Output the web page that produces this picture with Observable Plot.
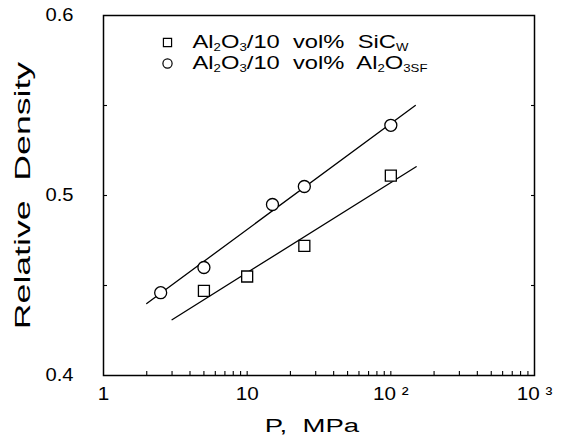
<!DOCTYPE html>
<html><head><meta charset="utf-8">
<script src="https://cdn.jsdelivr.net/npm/d3@7"></script>
<script src="https://cdn.jsdelivr.net/npm/@observablehq/plot@0.6"></script>
<style>
body{margin:0;background:#fff;}
svg text{white-space:pre;}
</style></head><body><div id="chart"></div>
<script>
// Data
const circleP = [2.5, 5, 15, 25, 100];
const circleD = [0.446, 0.460, 0.495, 0.505, 0.539];
const squareP = [5, 10, 25, 100];
const squareD = [0.447, 0.455, 0.472, 0.511];
const circleFitP = [2, 148];
const circleFitD = [0.440, 0.550];
const squareFitP = [3, 150];
const squareFitD = [0.431, 0.516];
const yTicks = [0.4, 0.5, 0.6];
const yMinor = [0.45, 0.5, 0.55];
const xTicks = [1, 10, 100, 1000];
const xTickLabels = ["1", "10", "10 ²", "10 ³"];
const xMinor = [2,3,4,5,6,7,8,9,10,20,30,40,50,60,70,80,90,100,200,300,400,500,600,700,800,900];
const legendLabels = ["Al_2O_3/10  vol%  SiC_W", "Al_2O_3/10  vol%  Al_2O_{3SF}"];
const xLabel = "P,  MPa";
const yLabel = "Relative  Density";

const circles = circleP.map((p, i) => ({p, d: circleD[i]}));
const squares = squareP.map((p, i) => ({p, d: squareD[i]}));
const circleFit = circleFitP.map((p, i) => ({p, d: circleFitD[i]}));
const squareFit = squareFitP.map((p, i) => ({p, d: squareFitD[i]}));

const ink = "black";
const chart = Plot.plot({
  width: 566, height: 438,
  marginLeft: 103, marginRight: 32, marginTop: 15, marginBottom: 63,
  x: {type: "log", domain: [1, 1000], label: null},
  y: {domain: [0.4, 0.6], label: null},
  style: {fontFamily: "'Liberation Sans', Arial, sans-serif", fontSize: "18px", color: ink, background: "white"},
  marks: [
    Plot.axisX({ticks: xMinor, tickSize: 4, insetBottom: 4, tickFormat: () => "", label: null, strokeWidth: 1.1}),
    Plot.axisX({ticks: xTicks, tickSize: 0, tickPadding: 12, tickFormat: d => xTickLabels[xTicks.indexOf(d)], label: null}),
    Plot.axisY({ticks: yMinor, anchor: "left", tickSize: 4, insetLeft: 4, tickFormat: () => "", label: null, strokeWidth: 1.1}),
    Plot.axisY({ticks: yMinor, anchor: "right", tickSize: 4, insetRight: 4, tickFormat: () => "", label: null, strokeWidth: 1.1}),
    Plot.axisY({ticks: yTicks, anchor: "left", tickSize: 0, tickPadding: 30, tickFormat: d3.format(".1f"), label: null}),
    Plot.frame({stroke: ink, strokeWidth: 1.5}),
    Plot.line(circleFit, {x: "p", y: "d", stroke: ink, strokeWidth: 1.3}),
    Plot.line(squareFit, {x: "p", y: "d", stroke: ink, strokeWidth: 1.3}),
    Plot.dot(circles, {x: "p", y: "d", r: 6, stroke: ink, fill: "white", strokeWidth: 1.3}),
    Plot.dot(squares, {x: "p", y: "d", r: 6.2, symbol: "square", stroke: ink, fill: "white", strokeWidth: 1.3}),
    Plot.text([xLabel], {frameAnchor: "bottom", dx: -7, dy: 56, fontSize: 19, fill: ink}),
    Plot.text([yLabel], {frameAnchor: "left", dx: -81, rotate: -90, textAnchor: "middle", fontSize: 22, fill: ink}),
    Plot.dot([legendLabels[0]], {frameAnchor: "top-left", dx: 64, dy: 27, r: 4.6, symbol: "square", stroke: ink, fill: "none", strokeWidth: 1.2}),
    Plot.dot([legendLabels[1]], {frameAnchor: "top-left", dx: 64, dy: 48, r: 4.6, symbol: "circle", stroke: ink, fill: "none", strokeWidth: 1.2}),
    Plot.text([legendLabels[0]], {frameAnchor: "top-left", dx: 89, dy: 27, textAnchor: "start", lineAnchor: "middle", fontSize: 18, fill: ink}),
    Plot.text([legendLabels[1]], {frameAnchor: "top-left", dx: 89, dy: 48, textAnchor: "start", lineAnchor: "middle", fontSize: 18, fill: ink})
  ]
});
document.getElementById("chart").appendChild(chart);

// subscripts in legend text
chart.querySelectorAll("text").forEach(t => {
  const s = t.textContent;
  if (!s.includes("_")) return;
  const parts = s.split(/_(\{[^}]*\}|.)/);
  t.textContent = "";
  parts.forEach((p, i) => {
    if (!p) return;
    const ts = document.createElementNS("http://www.w3.org/2000/svg", "tspan");
    if (i % 2 === 1) {
      ts.textContent = p.replace(/[{}]/g, "");
      ts.setAttribute("font-size", "10");
      ts.setAttribute("dy", "3");
    } else {
      ts.textContent = p;
      if (i > 0) ts.setAttribute("dy", "-3");
    }
    t.appendChild(ts);
  });
});

// widen glyphs along the reading direction (the original typeface is a wide sans), keeping each anchor
function widen(texts, f, pivot, vertical) {
  texts.forEach(t => {
    const g = document.createElementNS("http://www.w3.org/2000/svg", "g");
    t.parentNode.insertBefore(g, t);
    g.appendChild(t);
    const b = g.getBBox();
    if (vertical) {
      const py = b.y + b.height / 2;
      g.setAttribute("transform", `translate(0,${py}) scale(1,${f}) translate(0,${-py})`);
    } else {
      const px = pivot === "start" ? b.x : pivot === "end" ? b.x + b.width : b.x + b.width / 2;
      g.setAttribute("transform", `translate(${px},0) scale(${f},1) translate(${-px},0)`);
    }
  });
}
const all = Array.from(chart.querySelectorAll("text"));
widen(all.filter(t => t.closest('[aria-label="y-axis tick label"]')), 1.12, "end");
widen(all.filter(t => t.closest('[aria-label="x-axis tick label"]')), 1.15, "middle");
widen(all.filter(t => t.textContent.startsWith("Al")), 1.32, "start");
widen(all.filter(t => t.textContent === xLabel), 1.45, "middle");
widen(all.filter(t => t.textContent === yLabel), 1.62, "middle", true);
</script></body></html>
